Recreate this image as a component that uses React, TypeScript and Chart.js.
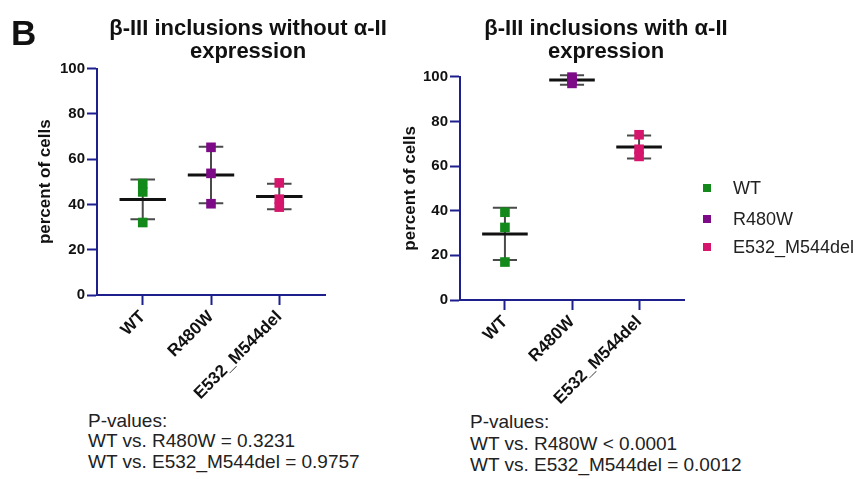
import React, { useEffect, useRef } from 'react';
import { Chart, registerables } from 'chart.js';

Chart.register(...registerables);

const FONT = '"Liberation Sans", Arial, Helvetica, sans-serif';
Chart.defaults.font.family = FONT;

// ---- data ----
const categories = ['WT', 'R480W', 'E532_M544del'];
const seriesColors = ['#13881b', '#7d0a87', '#d5166c'];
const yTicks = [0, 20, 40, 60, 80, 100];

const titleWithout = ['β-III inclusions without α-II', 'expression'];
const titleWith = ['β-III inclusions with α-II', 'expression'];

// β-III inclusions without α-II expression (percent of cells)
const withoutWT = [49.2, 45.5, 32.0];
const withoutR480W = [65.2, 53.7, 40.3];
const withoutE532 = [49.5, 42.3, 38.8];
const withoutMeans = [42.2, 53.0, 43.5];
const withoutSD = [8.8, 12.5, 5.6];

// β-III inclusions with α-II expression (percent of cells)
const withWT = [39.3, 32.5, 17.0];
const withR480W = [99.8, 98.6, 97.0];
const withE532 = [74.0, 67.5, 64.3];
const withMeans = [29.6, 98.5, 68.5];
const withSD = [11.7, 2.1, 5.15];

const pValuesWithout = ['P-values:', 'WT vs. R480W = 0.3231', 'WT vs. E532_M544del = 0.9757'];
const pValuesWith = ['P-values:', 'WT vs. R480W < 0.0001', 'WT vs. E532_M544del = 0.0012'];

const AXIS_COLOR = '#1d1f8c';
const TEXT_COLOR = '#111111';

const meanSdPlugin = {
  id: 'meanSd',
  beforeDatasetsDraw(chart: any, _args: any, opts: any) {
    const { ctx } = chart;
    const x = chart.scales.x;
    const y = chart.scales.y;
    const means: number[] = opts.means || [];
    const sds: number[] = opts.sds || [];
    ctx.save();
    means.forEach((m, i) => {
      const cx = x.getPixelForValue(i);
      const halfMean = x.getPixelForValue(i + 0.34) - cx;
      const halfCap = x.getPixelForValue(i + 0.18) - cx;
      const yTop = y.getPixelForValue(m + sds[i]);
      const yBot = y.getPixelForValue(m - sds[i]);
      const yM = y.getPixelForValue(m);
      ctx.strokeStyle = '#4a4a4a';
      ctx.lineWidth = 2;
      ctx.beginPath();
      ctx.moveTo(cx, yTop);
      ctx.lineTo(cx, yBot);
      ctx.moveTo(cx - halfCap, yTop);
      ctx.lineTo(cx + halfCap, yTop);
      ctx.moveTo(cx - halfCap, yBot);
      ctx.lineTo(cx + halfCap, yBot);
      ctx.stroke();
      ctx.strokeStyle = '#111111';
      ctx.lineWidth = 3;
      ctx.beginPath();
      ctx.moveTo(cx - halfMean, yM);
      ctx.lineTo(cx + halfMean, yM);
      ctx.stroke();
    });
    ctx.restore();
  },
};

type Cfg = {
  title: string[];
  groups: number[][];
  means: number[];
  sds: number[];
  yWidth: number;
  yTitlePad: number;
  rightWidth: number;
  xHeight: number;
  titleBottom: number;
};

function makeConfig(c: Cfg): any {
  return {
    type: 'scatter',
    data: {
      datasets: c.groups.map((vals, gi) => ({
        label: categories[gi],
        data: vals.map((v) => ({ x: gi, y: v })),
        backgroundColor: seriesColors[gi],
        borderColor: seriesColors[gi],
        borderWidth: 0,
        pointStyle: 'rect',
        pointRadius: 6.8,
        pointHoverRadius: 6.8,
        clip: false,
      })),
    },
    plugins: [meanSdPlugin],
    options: {
      animation: false,
      responsive: false,
      maintainAspectRatio: false,
      layout: { padding: 0 },
      plugins: {
        legend: { display: false },
        tooltip: { enabled: false },
        title: {
          display: true,
          text: c.title,
          color: TEXT_COLOR,
          font: { family: FONT, size: 22, weight: 'bold', lineHeight: 1.05 },
          padding: { top: 17, bottom: c.titleBottom },
        },
        meanSd: { means: c.means, sds: c.sds },
      },
      scales: {
        x: {
          type: 'linear',
          min: -0.67,
          max: 2.67,
          afterBuildTicks: (s: any) => {
            s.ticks = categories.map((_, i) => ({ value: i }));
          },
          afterFit: (s: any) => {
            s.height = c.xHeight;
          },
          grid: { drawOnChartArea: false, drawTicks: true, tickLength: 10, tickColor: AXIS_COLOR, tickWidth: 2 },
          border: { color: AXIS_COLOR, width: 2 },
          ticks: {
            autoSkip: false,
            maxRotation: 45,
            minRotation: 45,
            padding: 2,
            color: TEXT_COLOR,
            font: { family: FONT, size: 17, weight: 'bold' },
            callback: (v: any) => categories[Math.round(Number(v))] ?? '',
          },
        },
        y: {
          type: 'linear',
          position: 'left',
          min: 0,
          max: 100,
          afterBuildTicks: (s: any) => {
            s.ticks = yTicks.map((v) => ({ value: v }));
          },
          afterFit: (s: any) => {
            s.width = c.yWidth;
          },
          grid: { drawOnChartArea: false, drawTicks: true, tickLength: 10, tickColor: AXIS_COLOR, tickWidth: 2 },
          border: { color: AXIS_COLOR, width: 2 },
          ticks: {
            padding: 2,
            color: TEXT_COLOR,
            font: { family: FONT, size: 15, weight: 'bold' },
          },
          title: {
            display: true,
            text: 'percent of cells',
            color: TEXT_COLOR,
            font: { family: FONT, size: 17, weight: 'bold' },
            padding: { top: c.yTitlePad, bottom: 0 },
          },
        },
        pad: {
          type: 'linear',
          position: 'right',
          display: true,
          grid: { display: false, drawTicks: false },
          border: { display: false },
          ticks: { display: false },
          afterFit: (s: any) => {
            s.width = c.rightWidth;
          },
        },
      },
    },
  };
}

function Panel(props: { cfg: Cfg; left: number; width: number; height: number }) {
  const ref = useRef<HTMLCanvasElement | null>(null);
  useEffect(() => {
    if (!ref.current) return;
    const chart = new Chart(ref.current, makeConfig(props.cfg));
    return () => chart.destroy();
  }, []);
  return (
    <canvas
      ref={ref}
      width={props.width}
      height={props.height}
      style={{ position: 'absolute', left: props.left, top: 0, width: props.width, height: props.height }}
    />
  );
}

const textStyle: React.CSSProperties = {
  position: 'absolute',
  fontFamily: FONT,
  color: '#222222',
  whiteSpace: 'nowrap',
};

export default function App() {
  const leftCfg: Cfg = {
    title: titleWithout,
    groups: [withoutWT, withoutR480W, withoutE532],
    means: withoutMeans,
    sds: withoutSD,
    yWidth: 97,
    yTitlePad: 34.8,
    rightWidth: 171,
    xHeight: 115,
    titleBottom: 5.3,
  };
  const rightCfg: Cfg = {
    title: titleWith,
    groups: [withWT, withR480W, withE532],
    means: withMeans,
    sds: withSD,
    yWidth: 80,
    yTitlePad: 19.8,
    rightWidth: 148,
    xHeight: 110,
    titleBottom: 13.5,
  };
  const legendY = [188, 219, 247];
  return (
    <div style={{ position: 'absolute', left: 0, top: 0, width: 861, height: 479, background: '#ffffff', overflow: 'hidden' }}>
      <Panel cfg={leftCfg} left={0} width={496} height={410} />
      <Panel cfg={rightCfg} left={380} width={452} height={410} />
      <div style={{ ...textStyle, left: 11, top: 15, fontSize: 35, fontWeight: 'bold', lineHeight: '35px', color: '#111' }}>B</div>
      {categories.map((name, i) => (
        <React.Fragment key={name}>
          <div style={{ position: 'absolute', left: 703, top: legendY[i] - 4, width: 8, height: 8, background: seriesColors[i] }} />
          <div style={{ ...textStyle, left: 733, top: legendY[i] - 10, fontSize: 18, lineHeight: '20px' }}>{name}</div>
        </React.Fragment>
      ))}
      <div style={{ ...textStyle, left: 88, top: 411, fontSize: 19, lineHeight: '20.3px' }}>
        {pValuesWithout.map((t) => (
          <div key={t}>{t}</div>
        ))}
      </div>
      <div style={{ ...textStyle, left: 470, top: 411, fontSize: 19, lineHeight: '21.7px' }}>
        {pValuesWith.map((t) => (
          <div key={t}>{t}</div>
        ))}
      </div>
    </div>
  );
}
